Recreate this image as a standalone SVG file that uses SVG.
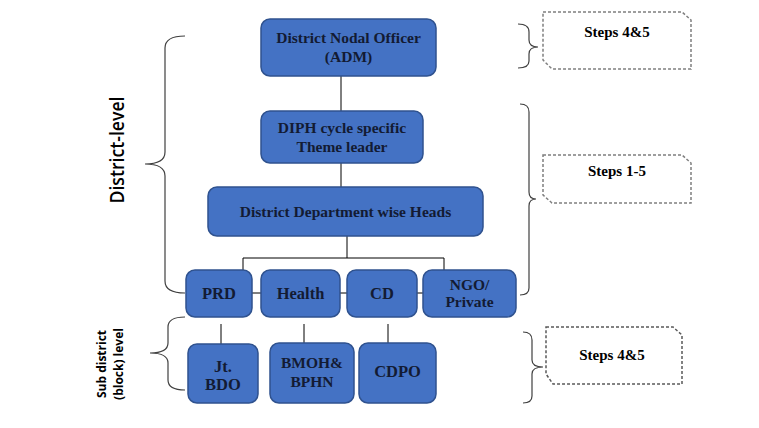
<svg xmlns="http://www.w3.org/2000/svg" width="759" height="428" viewBox="0 0 759 428">
<style>
.box{fill:#4472c4;stroke:#2f528f;stroke-width:1.5}
.t{font-family:"Liberation Serif","Times New Roman",serif;font-weight:bold;font-size:15.5px;fill:#131b33;text-anchor:middle}
.t15{font-size:16.5px}
.ln{stroke:#000;stroke-width:1;fill:none}
.brace{stroke:#404040;stroke-width:1.2;fill:none}
.step{fill:#fff;stroke:#7f7f7f;stroke-width:1.5;stroke-dasharray:3 2}
.st{font-family:"Liberation Serif","Times New Roman",serif;font-weight:bold;font-size:15px;fill:#000;text-anchor:middle}
.lbl{font-family:"Open Sans","Liberation Sans",sans-serif;fill:#000;text-anchor:middle}
</style>
<rect width="759" height="428" fill="#fff"/>
<g id="connectors">
<line class="ln" x1="341" y1="76" x2="341" y2="111"/>
<line class="ln" x1="341" y1="163" x2="341" y2="187"/>
<line class="ln" x1="347" y1="236" x2="347" y2="258"/>
<line class="ln" x1="243" y1="258" x2="444" y2="258"/>
<line class="ln" x1="243" y1="258" x2="243" y2="270"/>
<line class="ln" x1="444" y1="258" x2="444" y2="270"/>
<line class="ln" x1="252" y1="293" x2="261" y2="293"/>
<line class="ln" x1="340" y1="293" x2="347" y2="293"/>
<line class="ln" x1="417" y1="293" x2="423" y2="293"/>
<line class="ln" x1="221" y1="324" x2="221" y2="344"/>
<line class="ln" x1="304" y1="324" x2="304" y2="343"/>
<line class="ln" x1="388" y1="324" x2="388" y2="343"/>
</g>
<g id="braces">
<path class="brace" d="M185,36 Q165,36 165,48 L165,152 Q165,164 145,164 Q165,164 165,176 L165,281 Q165,293 185,293"/>
<path class="brace" d="M185,317 Q168,317 168,327 L168,343 Q168,353 150,353 Q168,353 168,363 L168,380 Q168,390 185,390"/>
<path class="brace" d="M518,24 Q529,24 529,32 L529,40 Q529,47 538,47 Q529,47 529,54 L529,61 Q529,68 518,68"/>
<path class="brace" d="M520,104 Q529,104 529,112 L529,192 Q529,199 536,199 Q529,199 529,206 L529,288 Q529,295 520,295"/>
<path class="brace" d="M523,332 Q532,332 532,340 L532,360 Q532,367 543,367 Q532,367 532,374 L532,396 Q532,403 523,403"/>
</g>
<g id="adm"><rect class="box" x="261" y="19" width="175" height="57" rx="9"/><text class="t" x="348.5" y="43">District Nodal Officer</text><text class="t" x="348.5" y="62">(ADM)</text></g>
<g id="diph"><rect class="box" x="261" y="111" width="162" height="52" rx="9"/><text class="t" x="342" y="133">DIPH cycle specific</text><text class="t" x="342" y="152">Theme leader</text></g>
<g id="heads"><rect class="box" x="208" y="187" width="275" height="49" rx="9"/><text class="t" x="345.5" y="217">District Department wise Heads</text></g>
<g id="prd"><rect class="box" x="186" y="270" width="66" height="47" rx="9"/><text class="t t15" x="219" y="299">PRD</text></g>
<g id="health"><rect class="box" x="261" y="270" width="79" height="47" rx="9"/><text class="t t15" x="300.5" y="299">Health</text></g>
<g id="cd"><rect class="box" x="347" y="270" width="70" height="47" rx="9"/><text class="t t15" x="382" y="299">CD</text></g>
<g id="ngo"><rect class="box" x="423" y="270" width="93" height="47" rx="9"/><text class="t" x="469.5" y="290">NGO/</text><text class="t" x="469.5" y="307">Private</text></g>
<g id="jtbdo"><rect class="box" x="188" y="344" width="70" height="59" rx="9"/><text class="t t15" x="223" y="372">Jt.</text><text class="t t15" x="223" y="390">BDO</text></g>
<g id="bmoh"><rect class="box" x="270" y="343" width="84" height="60" rx="9"/><text class="t" x="312" y="368">BMOH&amp;</text><text class="t" x="312" y="387">BPHN</text></g>
<g id="cdpo"><rect class="box" x="359" y="343" width="77" height="60" rx="9"/><text class="t t15" x="397.5" y="377">CDPO</text></g>
<g id="step1"><path class="step" d="M543,12 L682,12 L691,20 L691,69 L552,69 L543,60 Z"/><text class="st" x="617" y="37">Steps 4&amp;5</text></g>
<g id="step2"><path class="step" d="M543,155 L682,155 L691,163 L691,203 L552,203 L543,195 Z"/><text class="st" x="617" y="176">Steps 1-5</text></g>
<g id="step3"><path class="step" style="stroke:#595959" d="M546,327 L673,327 L682,335 L682,384 L553,384 L546,374 Z"/><text class="st" x="612" y="360">Steps 4&amp;5</text></g>
<g id="labels">
<text class="lbl" transform="translate(124,150) rotate(-90)" font-size="19" font-weight="600" textLength="107" lengthAdjust="spacingAndGlyphs">District-level</text>
<text class="lbl" transform="translate(106,364) rotate(-90)" font-size="12" font-weight="bold">Sub district</text>
<text class="lbl" transform="translate(123,364) rotate(-90)" font-size="12" font-weight="bold">(block) level</text>
</g>
</svg>
